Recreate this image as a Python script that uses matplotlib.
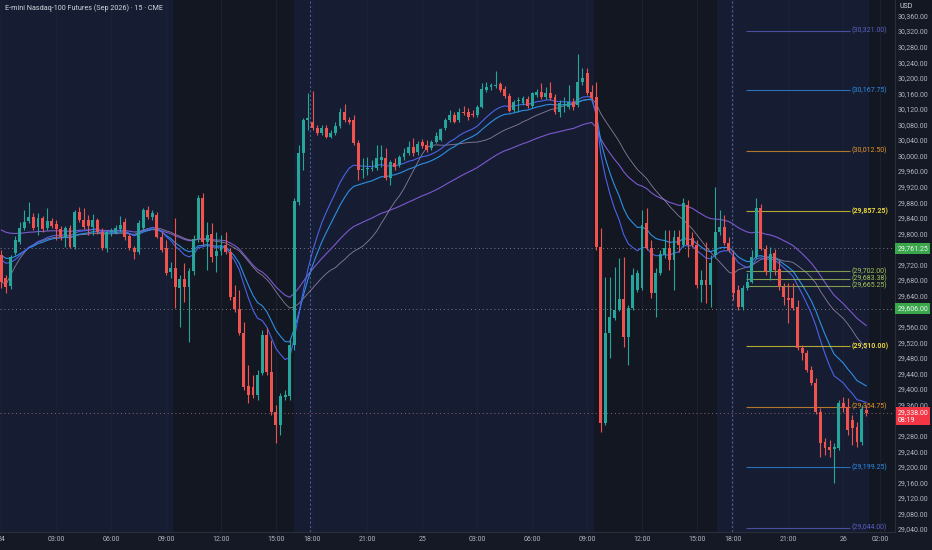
import numpy as np
import pandas as pd
import matplotlib
matplotlib.use("Agg")
import matplotlib.pyplot as plt
import matplotlib.transforms as mtransforms
from matplotlib.patches import Rectangle

plt.rcParams['font.family'] = ['Roboto', 'DejaVu Sans']

# 15 minute bars of the NQ contract, Sep 24 00:00 -> Sep 26 01:15
opens = [
    29744, 29685, 29665, 29749, 29778, 29814, 29832, 29842, 29816, 29839,
    29814, 29832, 29824, 29811, 29791, 29814, 29765, 29855, 29834, 29834,
    29816, 29834, 29803, 29762, 29803, 29803, 29811, 29829, 29793, 29762,
    29752, 29814, 29860, 29842, 29847, 29791, 29762, 29701, 29711, 29660,
    29683, 29662, 29703, 29785, 29891, 29778, 29798, 29742, 29755, 29770,
    29752, 29636, 29606, 29544, 29408, 29405, 29385, 29441, 29539, 29444,
    29341, 29307, 29379, 29382, 29513, 29881, 30006, 30091, 30086, 30071,
    30058, 30071, 30048, 30058, 30076, 30112, 30091, 30091, 30032, 29963,
    29965, 29965, 29968, 29988, 29994, 29942, 29981, 29976, 29996, 30006,
    30022, 30009, 30035, 30027, 30019, 30035, 30040, 30071, 30091, 30104,
    30091, 30112, 30112, 30107, 30104, 30125, 30168, 30176, 30179, 30184,
    30171, 30153, 30117, 30140, 30135, 30145, 30127, 30156, 30163, 30150,
    30161, 30150, 30112, 30130, 30125, 30138, 30130, 30189, 30212, 30163,
    30150, 29765, 29313, 29544, 29582, 29603, 29631, 29534, 29608, 29654,
    29660, 29827, 29762, 29647, 29698, 29744, 29762, 29731, 29791, 29770,
    29873, 29788, 29770, 29667, 29680, 29667, 29744, 29803, 29816, 29775,
    29739, 29654, 29611, 29660, 29675, 29739, 29865, 29760, 29701, 29749,
    29708, 29662, 29634, 29634, 29611, 29505, 29492, 29449, 29415, 29341,
    29264, 29251, 29246, 29248, 29364, 29354, 29320, 29302, 29264, 29346,
]
highs = [
    29757, 29693, 29744, 29793, 29829, 29860, 29881, 29852, 29852, 29845,
    29865, 29839, 29834, 29819, 29819, 29821, 29860, 29868, 29865, 29847,
    29850, 29839, 29814, 29809, 29814, 29821, 29845, 29839, 29798, 29768,
    29834, 29865, 29870, 29860, 29855, 29803, 29783, 29726, 29839, 29693,
    29724, 29711, 29796, 29898, 29904, 29829, 29827, 29803, 29796, 29803,
    29762, 29667, 29654, 29572, 29462, 29436, 29449, 29552, 29557, 29526,
    29359, 29390, 29397, 29526, 29891, 30027, 30096, 30161, 30166, 30078,
    30078, 30078, 30066, 30086, 30122, 30132, 30099, 30104, 30040, 29994,
    29996, 29988, 30027, 30027, 30019, 29988, 29994, 30001, 30019, 30037,
    30045, 30037, 30042, 30040, 30040, 30060, 30071, 30096, 30117, 30112,
    30122, 30127, 30122, 30117, 30130, 30186, 30189, 30186, 30217, 30189,
    30179, 30161, 30143, 30150, 30153, 30153, 30163, 30171, 30186, 30176,
    30189, 30158, 30143, 30150, 30181, 30148, 30261, 30225, 30225, 30181,
    30189, 29814, 29688, 29688, 29714, 29737, 29739, 29616, 29711, 29706,
    29860, 29865, 29783, 29711, 29757, 29809, 29809, 29809, 29809, 29891,
    29886, 29803, 29783, 29706, 29778, 29744, 29919, 29860, 29847, 29791,
    29757, 29667, 29667, 29698, 29757, 29891, 29875, 29770, 29765, 29760,
    29731, 29672, 29672, 29672, 29629, 29513, 29500, 29459, 29428, 29351,
    29274, 29269, 29261, 29372, 29379, 29377, 29333, 29315, 29359, 29359,
]
lows = [
    29660, 29647, 29657, 29744, 29773, 29809, 29827, 29809, 29796, 29803,
    29809, 29814, 29783, 29783, 29765, 29762, 29760, 29829, 29811, 29796,
    29796, 29798, 29757, 29752, 29793, 29798, 29803, 29783, 29757, 29734,
    29747, 29809, 29837, 29834, 29788, 29752, 29693, 29685, 29608, 29559,
    29624, 29521, 29693, 29778, 29770, 29706, 29726, 29701, 29744, 29747,
    29629, 29598, 29539, 29397, 29364, 29377, 29372, 29436, 29436, 29333,
    29261, 29282, 29372, 29372, 29500, 29873, 29963, 30066, 30066, 30053,
    30053, 30045, 30045, 30053, 30071, 30086, 30081, 30027, 29937, 29942,
    29950, 29960, 29963, 29970, 29937, 29924, 29963, 29970, 29988, 30001,
    29999, 30001, 30019, 30009, 30014, 30032, 30037, 30066, 30086, 30084,
    30086, 30104, 30091, 30099, 30099, 30122, 30163, 30168, 30173, 30163,
    30148, 30112, 30112, 30112, 30130, 30122, 30122, 30150, 30145, 30145,
    30143, 30107, 30099, 30112, 30120, 30117, 30125, 30181, 30156, 30143,
    29757, 29289, 29307, 29480, 29577, 29600, 29508, 29462, 29603, 29649,
    29654, 29757, 29634, 29585, 29693, 29737, 29706, 29654, 29752, 29765,
    29739, 29765, 29660, 29624, 29621, 29611, 29737, 29796, 29770, 29752,
    29629, 29603, 29603, 29654, 29672, 29734, 29757, 29693, 29680, 29693,
    29654, 29616, 29570, 29603, 29500, 29474, 29444, 29410, 29336, 29225,
    29230, 29225, 29158, 29243, 29341, 29282, 29256, 29251, 29256, 29330,
]
closes = [
    29675, 29662, 29739, 29783, 29814, 29829, 29842, 29814, 29839, 29811,
    29832, 29819, 29811, 29791, 29814, 29765, 29855, 29834, 29816, 29819,
    29834, 29803, 29762, 29803, 29806, 29814, 29821, 29791, 29762, 29752,
    29827, 29860, 29842, 29852, 29791, 29757, 29698, 29711, 29662, 29683,
    29662, 29703, 29785, 29891, 29778, 29796, 29739, 29755, 29770, 29752,
    29636, 29606, 29544, 29405, 29385, 29385, 29436, 29539, 29444, 29341,
    29307, 29382, 29385, 29513, 29883, 30006, 30091, 30096, 30071, 30058,
    30071, 30048, 30058, 30076, 30112, 30091, 30086, 30032, 29963, 29965,
    29968, 29968, 29994, 29996, 29942, 29983, 29970, 29996, 30006, 30022,
    30006, 30030, 30024, 30014, 30035, 30050, 30068, 30091, 30104, 30086,
    30112, 30109, 30099, 30104, 30125, 30171, 30176, 30181, 30181, 30168,
    30153, 30114, 30138, 30143, 30148, 30127, 30161, 30163, 30150, 30161,
    30148, 30112, 30135, 30132, 30138, 30125, 30189, 30199, 30161, 30148,
    29765, 29313, 29544, 29585, 29603, 29631, 29534, 29608, 29693, 29698,
    29821, 29762, 29647, 29698, 29747, 29762, 29731, 29791, 29770, 29878,
    29770, 29770, 29667, 29680, 29667, 29724, 29803, 29816, 29775, 29757,
    29647, 29611, 29660, 29675, 29739, 29865, 29760, 29701, 29747, 29706,
    29662, 29636, 29629, 29608, 29505, 29492, 29449, 29415, 29341, 29261,
    29248, 29243, 29251, 29364, 29351, 29295, 29300, 29264, 29349, 29338,
]

# time axis labels (bar index -> label)
tick_pos = [0, 12, 24, 36, 48, 60, 68, 80, 92, 104, 116, 128, 140, 152, 160, 172, 184, 192]
tick_lbl = ["24", "03:00", "06:00", "09:00", "12:00", "15:00", "18:00", "21:00", "25",
            "03:00", "06:00", "09:00", "12:00", "15:00", "18:00", "21:00", "26", "02:00"]

# regular session (darker background) and session breaks
rth_sessions = [(37.6, 64.0), (129.6, 156.3)]
session_breaks = [67.5, 159.6]

# moving averages: values carried in from before the first bar
seed_fast = 29740
seed_slow = 29750
seed_ema50 = 29814

# projection levels drawn on the right
levels = [30321.00, 30167.75, 30012.50, 29857.25, 29702.00, 29683.38, 29665.25,
          29510.00, 29354.75, 29199.25, 29044.00]
level_colors = ['#5c5fc4', '#2e8ee8', '#e8952a', '#e8d53a', '#a6c85a', '#a6c85a', '#a6c85a',
                '#e8d53a', '#e8952a', '#2e8ee8', '#5c5fc4']
level_start, level_end = 162.8, 185.4

hi_line = 29761.25
lo_line = 29606.00
last_price = 29338.00
countdown = "08:19"

price_ticks = np.arange(29040, 30361, 40)
# scale labels hidden behind the price tags
hidden_ticks = [29760, 29600, 29320]

BG = '#161d32'
DARK = '#131722'
UP = '#26a69a'
DOWN = '#ef5350'
TXT = '#b2b5be'


def ema(values, span, seed):
    a = 2.0 / (span + 1)
    out, v = [], seed
    for x in values:
        v = v + a * (x - v)
        out.append(v)
    return np.array(out)


o = np.array(opens, float)
h = np.array(highs, float)
l = np.array(lows, float)
c = np.array(closes, float)
x = np.arange(len(c))

fast = ema(c, 15, seed_fast)
slow = ema(c, 21, seed_slow)
ema50 = ema(c, 50, seed_ema50)
sma30 = pd.Series(c).rolling(30, min_periods=1).mean().values

fig = plt.figure(figsize=(9.32, 5.5), dpi=100)
fig.patch.set_facecolor('#141925')
ax = fig.add_axes([0, 18 / 550, 895 / 932, 532 / 550])
ax.set_facecolor(BG)

ax.set_xlim(-0.3, 195.3)
ax.set_ylim(29032.5, 30399.7)

# session shading
for a, b in rth_sessions:
    ax.axvspan(a, b, color=DARK, lw=0, zorder=0)
ax.axvspan(x[-1] + 0.6, 196, color=DARK, lw=0, zorder=0)

# faint grid
for t in tick_pos:
    ax.axvline(t, color='#1d2438', lw=0.6, zorder=0.5)

for s in session_breaks:
    ax.axvline(s, color='#4a5d99', lw=0.8, ls=(0, (2, 2)), zorder=1)

# dotted price lines
for yv in (hi_line, lo_line):
    ax.axhline(yv, color='#9598a1', lw=0.7, ls=(0, (1, 3)), alpha=0.8, zorder=1)
ax.axhline(last_price, color='#b0787a', lw=0.7, ls=(0, (1, 3)), alpha=0.8, zorder=1)

# moving averages
ax.plot(x, ema50, color='#7b59cf', lw=0.8, zorder=2)
ax.plot(x, sma30, color='#9c8fb3', lw=0.6, alpha=0.85, zorder=2)
ax.plot(x, slow, color='#2d8fe3', lw=0.8, zorder=2)
ax.plot(x, fast, color='#4a63e6', lw=0.8, zorder=2)

# projection levels
for lv, col in zip(levels, level_colors):
    ax.hlines(lv, level_start, level_end, color=col, lw=0.8, alpha=0.75, zorder=2.5)
    ax.text(level_end + 0.4, lv, "({:,.2f})".format(lv), color=col, fontsize=5,
            va='center', ha='left', zorder=4, fontweight='bold' if col == '#e8d53a' else 'normal')

# candles
up = c >= o
cols = np.where(up, UP, DOWN)
ax.vlines(x, l, h, colors=cols, lw=0.8, zorder=3)
body_lo = np.minimum(o, c)
body_h = np.maximum(np.abs(c - o), 2.5)
ax.bar(x, body_h, bottom=body_lo, width=0.64, color=cols, lw=0, zorder=3.1)

# axes styling
for side in ('left', 'top'):
    ax.spines[side].set_visible(False)
ax.spines['right'].set_color('#2a2e39')
ax.spines['bottom'].set_color('#2a2e39')
ax.spines['right'].set_linewidth(0.8)
ax.spines['bottom'].set_linewidth(0.8)

ax.set_xticks(tick_pos)
ax.set_xticklabels(tick_lbl)
ax.tick_params(axis='x', length=0, pad=3.2, labelsize=5, labelcolor=TXT)

ax.yaxis.tick_right()
ax.set_yticks(price_ticks)
ax.set_yticklabels(["" if v in hidden_ticks else "{:,.2f}".format(v) for v in price_ticks])
ax.tick_params(axis='y', length=0, pad=1.6, labelsize=5, labelcolor=TXT)

# price tags on the scale
tr = mtransforms.blended_transform_factory(ax.transAxes, ax.transData)
for yv in (hi_line, lo_line):
    ax.text(1.0025, yv, "{:,.2f}".format(yv), transform=tr, fontsize=5, color='#f0f3fa',
            va='center', ha='left', clip_on=False, zorder=6,
            bbox=dict(boxstyle='square,pad=0.3', fc='#3aa74a', ec='none'))
tr_up = mtransforms.offset_copy(tr, fig=fig, y=3.0, units='points')
ax.text(1.0025, last_price, "{:,.2f}\n{}".format(last_price, countdown), transform=tr_up,
        fontsize=5, color='#ffffff', va='top', ha='left', linespacing=1.15,
        clip_on=False, zorder=6,
        bbox=dict(boxstyle='square,pad=0.25', fc='#f23645', ec='none'))

# title and currency box
fig.text(5 / 932, 1 - 8 / 550, "E-mini Nasdaq-100 Futures (Sep 2026) · 15 · CME",
         fontsize=5.2, color='#d1d4dc', va='center', ha='left')
fig.patches.append(Rectangle((896 / 932, 1 - 14 / 550), 36 / 932, 14 / 550,
                             transform=fig.transFigure, fc='#131722', ec='none', zorder=10))
fig.text(900 / 932, 1 - 7 / 550, "USD", fontsize=5, color='#d1d4dc', va='center',
         ha='left', zorder=11)

fig.savefig("out.png", dpi=100, facecolor=fig.get_facecolor())
